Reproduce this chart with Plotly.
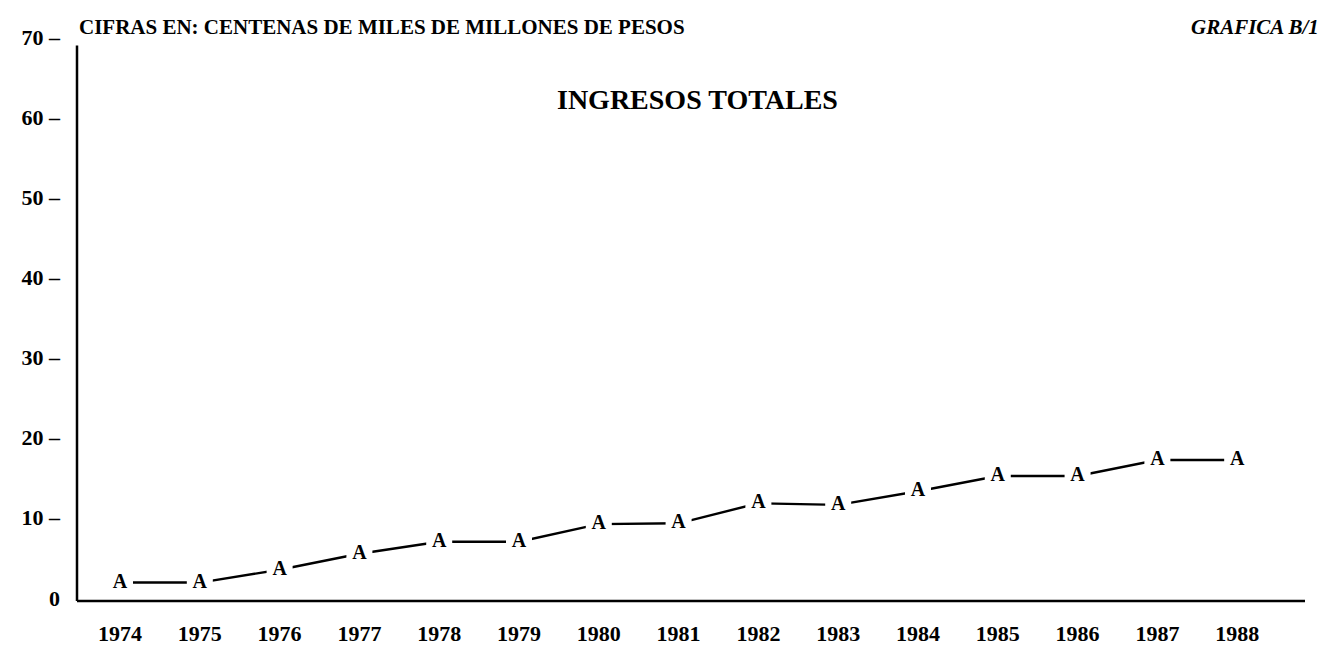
import plotly.graph_objects as go

years = [1974, 1975, 1976, 1977, 1978, 1979, 1980, 1981, 1982, 1983, 1984, 1985, 1986, 1987, 1988]
ingresos = [1.9, 1.9, 3.5, 5.5, 7.0, 7.0, 9.2, 9.3, 11.8, 11.6, 13.3, 15.2, 15.2, 17.2, 17.2]
marker_labels = ["A"] * len(years)
y_tick_vals = [0, 10, 20, 30, 40, 50, 60, 70]
y_tick_text = ["0", "10 \u2013", "20 \u2013", "30 \u2013", "40 \u2013", "50 \u2013", "60 \u2013", "70 \u2013"]
x_tick_text = [str(y) for y in years]

SERIF = "Liberation Serif"

fig = go.Figure()
fig.add_trace(go.Scatter(
    x=years, y=ingresos,
    mode="lines+markers+text",
    text=marker_labels,
    textposition="middle center",
    textfont=dict(family=SERIF, size=20, color="black", weight="bold"),
    line=dict(color="black", width=2.4),
    marker=dict(symbol="square", size=26, color="white", line=dict(width=0)),
    showlegend=False,
    hoverinfo="x+y",
))

fig.update_layout(
    width=1320, height=650,
    margin=dict(l=77, r=15, t=37, b=49),
    plot_bgcolor="white", paper_bgcolor="white",
    xaxis=dict(
        range=[1973.461, 1988.85],
        tickvals=years, ticktext=x_tick_text,
        showgrid=False, zeroline=False, showline=False, ticks="",
        ticklabelstandoff=17, automargin=False,
        tickfont=dict(family=SERIF, size=22, color="black", weight="bold"),
    ),
    yaxis=dict(
        range=[-0.4, 70],
        tickvals=y_tick_vals, ticktext=y_tick_text,
        showgrid=False, zeroline=False, showline=False, ticks="",
        ticklabelstandoff=16, automargin=False,
        tickfont=dict(family=SERIF, size=22, color="black", weight="bold"),
    ),
    shapes=[
        dict(type="line", xref="paper", yref="paper", x0=0, x1=0, y0=0, y1=0.985,
             line=dict(color="black", width=2.5)),
        dict(type="line", xref="paper", yref="paper", x0=0, x1=1, y0=0, y1=0,
             line=dict(color="black", width=2.5)),
    ],
    annotations=[
        dict(text="CIFRAS EN: CENTENAS DE MILES DE MILLONES DE PESOS",
             xref="paper", yref="paper", x=0.0, y=1.0, xanchor="left", yanchor="middle",
             xshift=0, yshift=10, showarrow=False,
             font=dict(family=SERIF, size=21, color="black", weight="bold")),
        dict(text="<i>GRAFICA B/1</i>",
             xref="paper", yref="paper", x=1.0, y=1.0, xanchor="right", yanchor="middle",
             xshift=16, yshift=10, showarrow=False,
             font=dict(family=SERIF, size=21, color="black", weight="bold")),
        dict(text="INGRESOS TOTALES",
             xref="paper", yref="paper", x=(697 - 77) / 1228, y=(601 - 100) / 564,
             xanchor="center", yanchor="middle", showarrow=False,
             font=dict(family=SERIF, size=28, color="black", weight="bold")),
    ],
)

fig.write_html("out.html", config={"displayModeBar": False},
               post_script="document.body.style.margin='0';document.body.style.overflow='hidden';")
